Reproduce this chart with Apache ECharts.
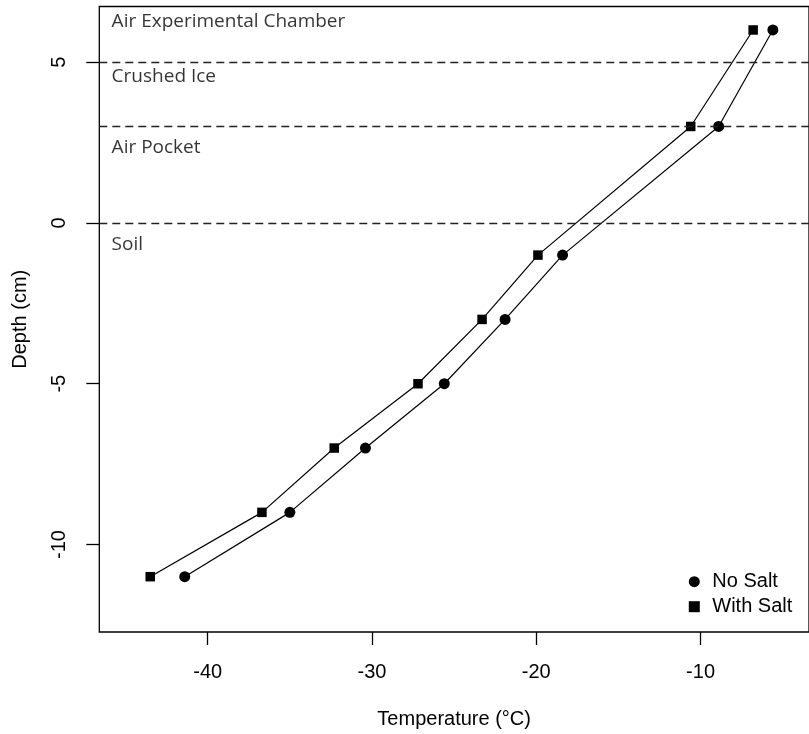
<!DOCTYPE html>
<html><head><meta charset="utf-8">
<script src="https://cdn.jsdelivr.net/npm/echarts@6/dist/echarts.min.js"></script>
<style>html,body{margin:0;padding:0;background:#fff}#c{width:809px;height:734px}</style>
</head><body><div id="c"></div>
<script>
const depths = [6, 3, -1, -3, -5, -7, -9, -11];
const noSalt = [-5.6, -8.9, -18.4, -21.9, -25.6, -30.4, -35.0, -41.4];
const withSalt = [-6.8, -10.6, -19.9, -23.3, -27.2, -32.3, -36.7, -43.5];
const xTicks = [-40, -30, -20, -10];
const yTicks = [5, 0, -5, -10];
const boundaries = [5, 3, 0];
const regionNames = ['Air Experimental Chamber', 'Crushed Ice', 'Air Pocket', 'Soil'];
const regionY = [6.26, 4.54, 2.34, -0.67];
const regionX = -45.85;
const xRange = [-46.6, -3.4];
const yRange = [-12.72, 6.73];

const axisFont = 'Liberation Sans, Arial, sans-serif';
const chart = echarts.init(document.getElementById('c'), null, {renderer: 'canvas'});
chart.setOption({
  animation: false,
  backgroundColor: '#fff',
  grid: {left: 99.3, top: 6.5, width: 720, height: 626.5, show: true, borderColor: '#000', borderWidth: 1.3, backgroundColor: 'transparent'},
  xAxis: {
    type: 'value', min: xRange[0], max: xRange[1],
    splitLine: {show: false}, axisLine: {show: false, onZero: false},
    axisTick: {show: true, customValues: xTicks, length: 13, lineStyle: {color: '#000', width: 1.3}},
    axisLabel: {customValues: xTicks, margin: 30, fontSize: 20, fontFamily: axisFont, color: '#000'},
    name: 'Temperature (°C)', nameLocation: 'middle', nameGap: 77,
    nameTextStyle: {fontSize: 20, fontFamily: axisFont, color: '#000'}
  },
  yAxis: {
    type: 'value', min: yRange[0], max: yRange[1],
    splitLine: {show: false}, axisLine: {show: false, onZero: false},
    axisTick: {show: true, customValues: yTicks, length: 13, lineStyle: {color: '#000', width: 1.3}},
    axisLabel: {customValues: yTicks, margin: 30, rotate: 90, fontSize: 20, fontFamily: axisFont, color: '#000'},
    name: 'Depth (cm)', nameLocation: 'middle', nameGap: 69, nameRotate: 90,
    nameTextStyle: {fontSize: 20, fontFamily: axisFont, color: '#000'}
  },
  legend: {
    orient: 'vertical', left: 683.8, top: 566.7, itemWidth: 11, itemHeight: 11, itemGap: 5,
    textStyle: {fontSize: 20, lineHeight: 20, fontFamily: axisFont, color: '#000', padding: [0, 0, 0, 7.5]},
    data: [{name: 'No Salt', icon: 'circle'}, {name: 'With Salt', icon: 'rect'}],
    itemStyle: {color: '#000'}
  },
  series: [
    {
      name: 'No Salt', type: 'line', symbol: 'circle', symbolSize: 11,
      data: noSalt.map((t, i) => [t, depths[i]]),
      lineStyle: {color: '#000', width: 1.2}, itemStyle: {color: '#000'},
      markLine: {
        silent: true, symbol: ['none', 'none'], label: {show: false},
        lineStyle: {type: [8, 5], color: '#222', width: 1.3},
        emphasis: {disabled: true},
        data: boundaries.map(v => ({yAxis: v}))
      }
    },
    {
      name: 'With Salt', type: 'line', symbol: 'rect', symbolSize: 9.5,
      data: withSalt.map((t, i) => [t, depths[i]]),
      lineStyle: {color: '#000', width: 1.2}, itemStyle: {color: '#000'}
    },
    {
      name: 'regions', type: 'scatter', symbolSize: 0, silent: true,
      data: regionNames.map((n, i) => [regionX, regionY[i], n]),
      label: {show: true, position: 'right', distance: 0, formatter: p => p.data[2],
        fontFamily: 'Open Sans', fontSize: 19, color: '#000'}
    }
  ]
});
</script></body></html>
